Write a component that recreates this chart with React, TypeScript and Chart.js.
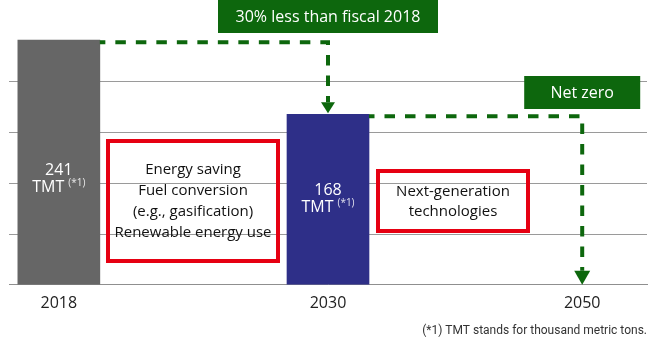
import React, { useEffect, useRef } from "react";
import { Chart, registerables } from "chart.js";

Chart.register(...registerables);

// ---- data ----
const years = ["2018", "2030", "2050"];
const emissions = [241, 168, 0];
// timeline slot of each year on the category axis (129 slots)
const yearSlots = [10, 64, 115];
const slotCount = 129;
const valueLabels = ["241", "168"];
const unitLabel = "TMT";
const noteMark = "(*1)";
const measures2030 = ["Energy saving", "Fuel conversion", "(e.g., gasification)", "Renewable energy use"];
const measures2050 = ["Next-generation", "technologies"];
const target2030 = "30% less than fiscal 2018";
const target2050 = "Net zero";
const footnote = "(*1) TMT stands for thousand metric tons.";

const slotLabels: string[] = Array.from({ length: slotCount }, (_, i) => {
  const k = yearSlots.indexOf(i);
  return k >= 0 ? years[k] : "";
});

const FONT = "'Open Sans', sans-serif";
const GREEN = "#0d670d";
const RED = "#e60012";
const BAR_COLORS = ["#666666", "#2e2f88", "rgba(0,0,0,0)"];

const annotationPlugin = {
  id: "annotations",
  afterDatasetsDraw(chart: any) {
    const ctx: CanvasRenderingContext2D = chart.ctx;
    const meta = chart.getDatasetMeta(0);
    const bars = meta.data as any[];
    const [b0, b1, b2] = bars;
    const base = chart.scales.y.getPixelForValue(0);
    ctx.save();

    // bar value labels
    const labelMid = [179, 199];
    [b0, b1].forEach((b, i) => {
      const mid = labelMid[i];
      ctx.fillStyle = "#ffffff";
      ctx.textBaseline = "middle";
      ctx.textAlign = "center";
      ctx.font = `16px ${FONT}`;
      ctx.fillText(valueLabels[i], b.x, mid - 8.5);
      const wT = ctx.measureText(unitLabel).width;
      ctx.font = `10px ${FONT}`;
      const wS = ctx.measureText(noteMark).width;
      const gap = 4;
      const start = b.x - (wT + gap + wS) / 2;
      ctx.textAlign = "left";
      ctx.font = `16px ${FONT}`;
      ctx.fillText(unitLabel, start, mid + 8.5);
      ctx.font = `10px ${FONT}`;
      ctx.fillStyle = "rgba(255,255,255,0.85)";
      ctx.fillText(noteMark, start + wT + gap, mid + 4);
    });

    // dashed arrows
    ctx.strokeStyle = GREEN;
    ctx.fillStyle = GREEN;
    ctx.lineWidth = 4;
    ctx.setLineDash([10.5, 10]);
    ctx.lineDashOffset = 5;
    const y1 = b0.y + 2;
    ctx.beginPath();
    ctx.moveTo(b0.x + b0.width / 2, y1);
    ctx.lineTo(b1.x, y1);
    ctx.lineTo(b1.x, b1.y - 12);
    ctx.stroke();
    const y2 = b1.y + 2;
    ctx.beginPath();
    ctx.moveTo(b1.x + b1.width / 2, y2);
    ctx.lineTo(b2.x, y2);
    ctx.lineTo(b2.x, base - 14);
    ctx.stroke();
    ctx.setLineDash([]);
    ctx.beginPath();
    ctx.moveTo(b1.x - 7, b1.y - 12);
    ctx.lineTo(b1.x + 7, b1.y - 12);
    ctx.lineTo(b1.x, b1.y - 1);
    ctx.closePath();
    ctx.fill();
    ctx.beginPath();
    ctx.moveTo(b2.x - 8, base - 14);
    ctx.lineTo(b2.x + 8, base - 14);
    ctx.lineTo(b2.x, base);
    ctx.closePath();
    ctx.fill();

    // green target boxes
    ctx.fillStyle = GREEN;
    ctx.fillRect(b1.x - 110, 0, 220, 33);
    ctx.fillRect(b2.x - 58, 76, 116, 33);
    ctx.fillStyle = "#ffffff";
    ctx.font = `16px ${FONT}`;
    ctx.textAlign = "center";
    ctx.textBaseline = "middle";
    ctx.fillText(target2030, b1.x, 17);
    ctx.fillText(target2050, b2.x, 93);

    // red measure boxes
    ctx.strokeStyle = RED;
    ctx.lineWidth = 4;
    ctx.strokeRect(108, 141, 170, 120);
    ctx.strokeRect(378, 171, 150, 60);
    ctx.fillStyle = "#111111";
    ctx.font = `15px ${FONT}`;
    measures2030.forEach((t, i) => ctx.fillText(t, 193, 170 + i * 21));
    measures2050.forEach((t, i) => ctx.fillText(t, 453, 191.5 + i * 20.5));

    // footnote
    ctx.font = "12px Roboto, sans-serif";
    ctx.fillStyle = "#333333";
    ctx.textAlign = "right";
    ctx.fillText(footnote, 647, 331);

    ctx.restore();
  },
};

export default function App() {
  const ref = useRef<HTMLCanvasElement | null>(null);

  useEffect(() => {
    if (!ref.current) return;
    const chart = new Chart(ref.current, {
      type: "bar",
      data: {
        labels: slotLabels,
        datasets: [
          {
            data: years.map((y, i) => ({ x: y, y: emissions[i] })) as any,
            backgroundColor: BAR_COLORS,
            barThickness: 82,
            borderWidth: 0,
          },
        ],
      },
      options: {
        animation: false,
        responsive: false,
        devicePixelRatio: 1,
        layout: { padding: { left: 8, right: 8, top: 31, bottom: 38 } },
        plugins: { legend: { display: false }, tooltip: { enabled: false } },
        scales: {
          x: {
            offset: false,
            grid: { display: false, drawTicks: false },
            border: { display: true, color: "#8f8f8f", width: 1 },
            ticks: {
              autoSkip: false,
              maxRotation: 0,
              padding: 9,
              color: "#222222",
              font: { family: FONT, size: 16 },
              callback: function (this: any, v: any) {
                return this.getLabelForValue(v);
              },
            },
          },
          y: {
            min: 0,
            max: 250,
            ticks: { display: false, stepSize: 50 },
            border: { display: false },
            grid: {
              drawTicks: false,
              color: (c: any) =>
                c.tick && c.tick.value > 0 && c.tick.value <= 200 ? "#9a9a9a" : "rgba(0,0,0,0)",
            },
          },
        },
      },
      plugins: [annotationPlugin],
    });
    return () => chart.destroy();
  }, []);

  return (
    <div style={{ position: "absolute", left: 0, top: 0, width: 656, height: 360, background: "#fff" }}>
      <canvas ref={ref} width={656} height={360} style={{ width: 656, height: 360, display: "block" }} />
    </div>
  );
}
